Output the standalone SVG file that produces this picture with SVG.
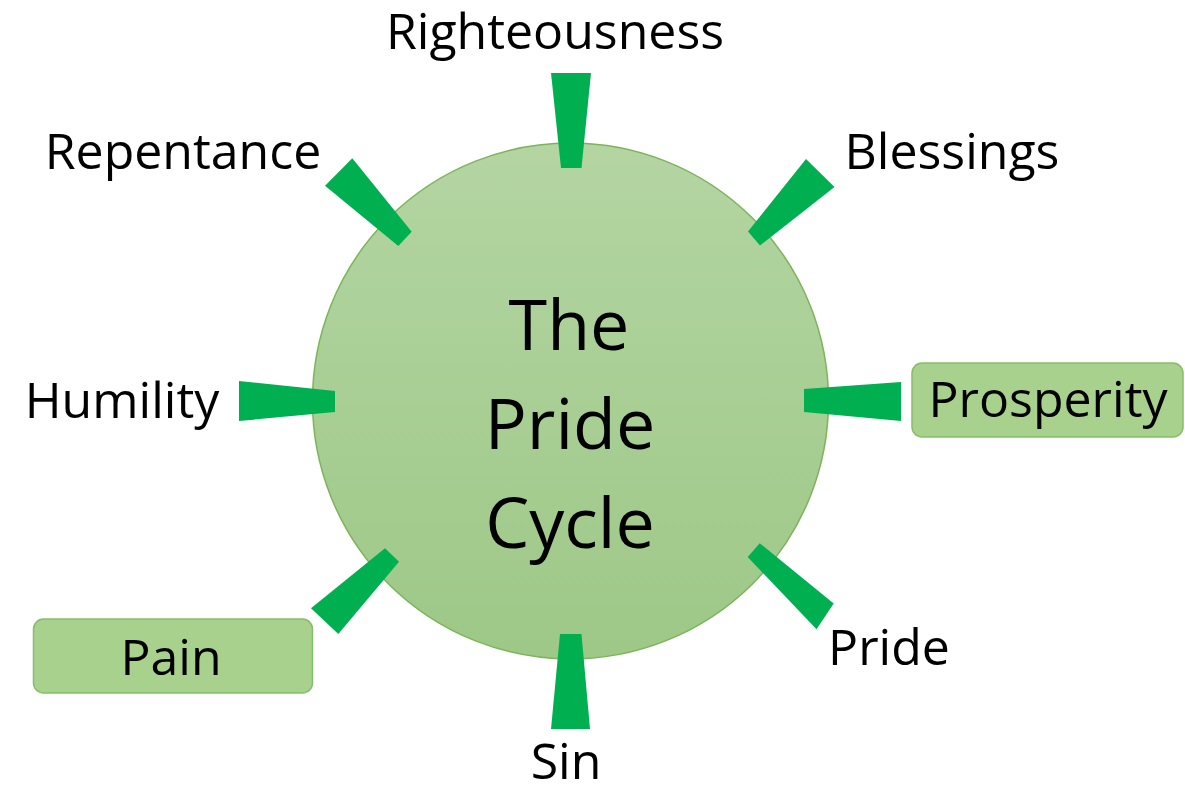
<svg xmlns="http://www.w3.org/2000/svg" width="1185" height="794" viewBox="0 0 1185 794">
  <defs>
    <linearGradient id="circFill" x1="0" y1="0" x2="0" y2="1">
      <stop offset="0" stop-color="#b4d5a2"/>
      <stop offset="1" stop-color="#9dc887"/>
    </linearGradient>
    <style>
      .lbl { font-family: "Open Sans", "Liberation Sans", sans-serif; font-size: 50px; fill: #000; text-anchor: middle; }
      .title { font-family: "Open Sans", "Liberation Sans", sans-serif; font-size: 70px; fill: #000; text-anchor: middle; }
      .box { fill: #a9d18e; stroke: #86bd6a; stroke-width: 1.5; }
      .tick { fill: #00b050; }
    </style>
  </defs>
  <rect width="1185" height="794" fill="#ffffff"/>

  <g id="center">
    <circle cx="570.5" cy="401" r="258" fill="url(#circFill)" stroke="#7cb45a" stroke-width="1.5"/>
    <text class="title" x="569" y="350">The</text>
    <text class="title" x="570" y="449">Pride</text>
    <text class="title" x="570" y="548">Cycle</text>
  </g>

  <g id="connectors">
    <polygon class="tick" points="551,73 591,73 581.5,168 561,168"/>
    <polygon class="tick" points="806,159 834.5,187 760,245.5 748,231.5"/>
    <polygon class="tick" points="804,389 901,382 901,421 804,412"/>
    <polygon class="tick" points="759.7,543.2 833.7,603.5 816.5,629.3 747.7,557"/>
    <polygon class="tick" points="560,634 581.5,634 590,729 551,729"/>
    <polygon class="tick" points="385,548.3 399,561.7 338.3,634 311,608.3"/>
    <polygon class="tick" points="239,381 335,391 335,412 239,421"/>
    <polygon class="tick" points="352.3,158.3 411.7,231.7 398.3,246 325,185.7"/>
  </g>

  <g id="righteousness">
    <text class="lbl" x="555" y="49">Righteousness</text>
  </g>
  <g id="blessings">
    <text class="lbl" x="952" y="169">Blessings</text>
  </g>
  <g id="prosperity">
    <rect class="box" x="912" y="363" width="271" height="74" rx="10" ry="10"/>
    <text class="lbl" x="1048" y="417">Prosperity</text>
  </g>
  <g id="pride">
    <text class="lbl" x="889" y="665">Pride</text>
  </g>
  <g id="sin">
    <text class="lbl" x="566" y="779">Sin</text>
  </g>
  <g id="pain">
    <rect class="box" x="33.5" y="619" width="279" height="74" rx="10" ry="10"/>
    <text class="lbl" x="171" y="675">Pain</text>
  </g>
  <g id="humility">
    <text class="lbl" x="122" y="418">Humility</text>
  </g>
  <g id="repentance">
    <text class="lbl" x="183" y="169">Repentance</text>
  </g>
</svg>
